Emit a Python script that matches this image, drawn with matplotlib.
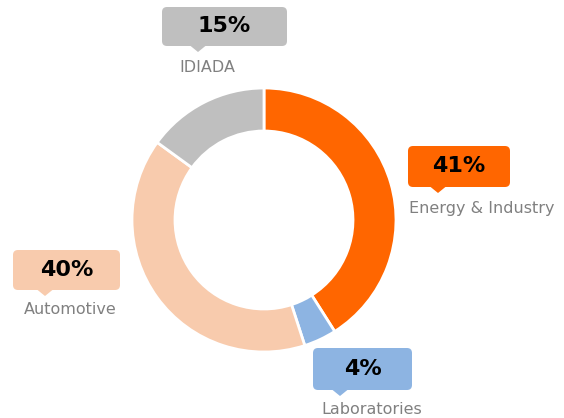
import matplotlib.pyplot as plt
from matplotlib.patches import FancyBboxPatch, Polygon

# segment data (clockwise from top)
labels = ['Energy & Industry', 'Laboratories', 'Automotive', 'IDIADA']
shares = [41, 4, 40, 15]
colors = ['#FF6600', '#8DB4E2', '#F8CBAD', '#BFBFBF']

W, H = 564, 418

# callout boxes in pixel coordinates (left, top, right, bottom), pointer x, caption y
boxes = {
    'IDIADA': ((162, 7, 287, 46), 198, 68),
    'Energy & Industry': ((408, 146, 510, 187), 438, 208),
    'Automotive': ((13, 250, 120, 290), 45, 310),
    'Laboratories': ((313, 348, 412, 390), 340, 409),
}
caption_x = {'IDIADA': 207, 'Energy & Industry': 482, 'Automotive': 70, 'Laboratories': 372}

fig = plt.figure(figsize=(W / 100, H / 100), dpi=100)
ax = fig.add_axes([0, 0, 1, 1])

ax.pie(shares, colors=colors, startangle=90, counterclock=False,
       radius=132, center=(264, H - 220),
       wedgeprops=dict(width=43, edgecolor='white', linewidth=2))

ax.set_xlim(0, W)
ax.set_ylim(0, H)
ax.set_aspect('equal')
ax.axis('off')

for lab, share, col in zip(labels, shares, colors):
    (x0, y0, x1, y1), px, cy = boxes[lab]
    pad = 5
    box = FancyBboxPatch((x0 + pad, H - y1 + pad), (x1 - x0) - 2 * pad, (y1 - y0) - 2 * pad,
                         boxstyle='round,pad=%d' % pad, facecolor=col, edgecolor='none')
    ax.add_patch(box)
    tri = Polygon([(px - 8, H - y1 + 0.5), (px + 8, H - y1 + 0.5), (px, H - y1 - 6)],
                  closed=True, facecolor=col, edgecolor='none')
    ax.add_patch(tri)
    ax.text((x0 + x1) / 2, H - (y0 + y1) / 2, f'{share}%', ha='center', va='center',
            fontsize=16, fontweight='bold', color='black')
    ax.text(caption_x[lab], H - cy, lab, ha='center', va='center',
            fontsize=11.5, color='#808080')

fig.savefig('out.png', dpi=100)
